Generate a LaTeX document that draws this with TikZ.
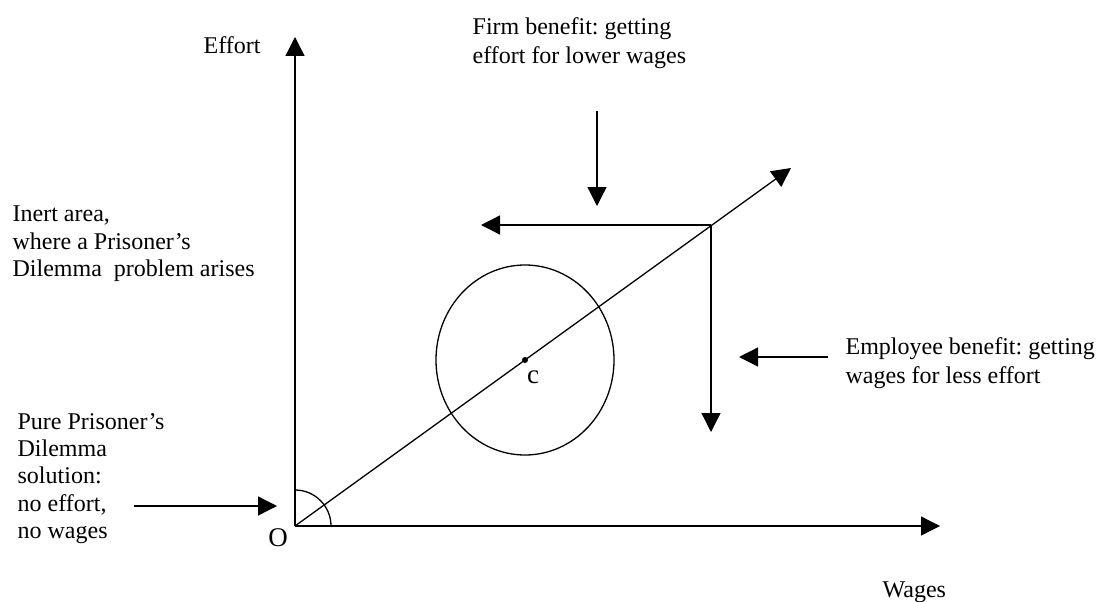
\documentclass[tikz,border=0pt]{standalone}
\usepackage{fontspec}
\setmainfont{Liberation Serif}
\usetikzlibrary{arrows.meta}
\frenchspacing
\begin{document}
\begin{tikzpicture}[x=1pt,y=-1pt,
  line width=1.3pt,
  arr/.style={-{Triangle[length=19pt,width=19pt]}},
  txt/.style={font=\fontsize{24}{27.4}\selectfont, inner sep=0pt, align=left},
  txtw/.style={font=\fontsize{24}{29}\selectfont, inner sep=0pt, align=left},
  ptlabel/.style={font=\fontsize{27}{30}\selectfont, inner sep=0pt}]
\fill[white] (0,0) rectangle (1097,602);
\useasboundingbox (0,0) rectangle (1097,602);
% key points
\coordinate (o) at (295,526);
\coordinate (ytip) at (295,37);
\coordinate (xtip) at (940,526);
\coordinate (dtip) at (791,168);
\coordinate (k) at (711,225);
\coordinate (ltip) at (481,225);
\coordinate (vtip) at (711,432);
\coordinate (ftop) at (597,111);
\coordinate (fbot) at (597,206);
\coordinate (estart) at (828,357);
\coordinate (etip) at (739,357);
\coordinate (pstart) at (134,506);
\coordinate (ptip) at (277,506);
\coordinate (c) at (525,360);
% axes
\draw[arr] (o) -- (ytip);
\draw[arr] (o) -- (xtip);
\draw[arr] (o) -- (dtip);
% angle arc
\draw (331,526) arc[start angle=0, end angle=90, radius=36pt];
% circle and centre
\draw (c) ellipse [x radius=89pt, y radius=95pt];
\fill (c) circle [radius=3pt];
% benefit arrows
\draw[arr] (k) -- (ltip);
\draw[arr] (k) -- (vtip);
\draw[arr] (ftop) -- (fbot);
\draw[arr] (estart) -- (etip);
\draw[arr] (pstart) -- (ptip);
% labels
\node[txt, anchor=base west] (effort) at (203,53) {Effort};
\node[txt, anchor=base west] (wages) at (882,597) {Wages};
\node[ptlabel, anchor=center] (olabel) at (278,537.5) {O};
\node[ptlabel, anchor=center] (clabel) at (533,377) {c};
\node[txtw, anchor=north west] (firm) at (472,16.5) {Firm benefit: getting\\effort for lower wages};
\node[txtw, anchor=north west] (emp) at (845,336.5) {Employee benefit: getting\\wages for less effort};
\node[txt, anchor=north west] (inert) at (12,205.5) {Inert area,\\where a Prisoner’s\\Dilemma\ \ problem arises};
\node[txt, anchor=north west] (pure) at (17,412.5) {Pure Prisoner’s\\Dilemma\\solution:\\no effort,\\no wages};
\end{tikzpicture}
\end{document}
